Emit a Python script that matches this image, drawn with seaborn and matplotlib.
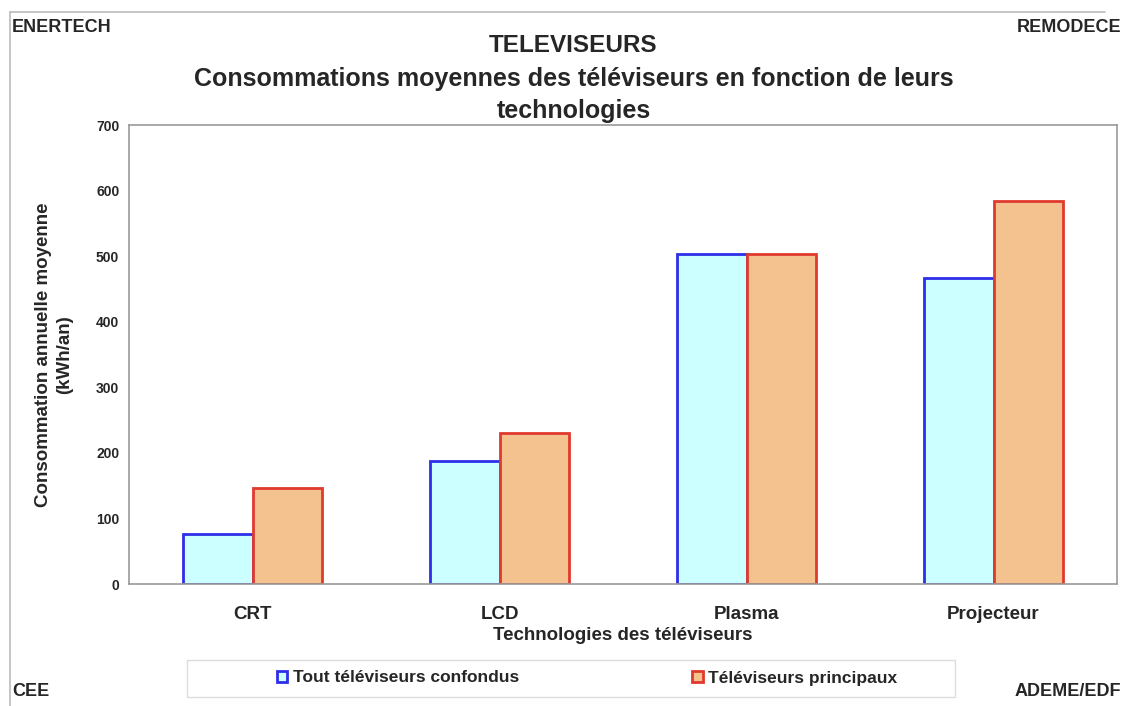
import matplotlib
matplotlib.use("Agg")
import matplotlib.pyplot as plt
import seaborn as sns
import pandas as pd
from matplotlib.patches import Patch, Rectangle
from matplotlib.lines import Line2D

categories = ["CRT", "LCD", "Plasma", "Projecteur"]
series_names = ["Tout téléviseurs confondus", "Téléviseurs principaux"]
tout_values = [76, 187, 504, 467]
principaux_values = [146, 231, 504, 584]
yticks = [0, 100, 200, 300, 400, 500, 600, 700]

fills = ["#CCFFFF", "#F4C28E"]
edges = ["#2E2EE8", "#E03A2E"]

df = pd.DataFrame({
    "cat": categories * 2,
    "val": tout_values + principaux_values,
    "serie": [series_names[0]] * 4 + [series_names[1]] * 4,
})

sns.set_style("white")
plt.rcParams["font.family"] = ["Liberation Sans", "DejaVu Sans"]

W, H = 1125, 706
fig = plt.figure(figsize=(W / 100, H / 100), dpi=100)
ax = fig.add_axes([129 / W, 1 - 584 / H, (1117 - 129) / W, (584 - 125) / H])

sns.barplot(data=df, x="cat", y="val", hue="serie", order=categories,
            hue_order=series_names, palette=fills, width=0.56,
            ax=ax, legend=False, saturation=1)

n = len(categories)
for i, bar in enumerate(ax.patches[:2 * n]):
    s = i // n
    bar.set_edgecolor(edges[s])
    bar.set_linewidth(2)

ax.set_ylim(0, 700)
ax.set_yticks(yticks)
ax.set_yticklabels([str(t) for t in yticks], fontsize=10, fontweight="bold")
ax.set_xticks(range(n))
ax.set_xticklabels(categories, fontsize=13.5, fontweight="bold")
ax.tick_params(axis="x", length=0, pad=16)
ax.tick_params(axis="y", length=0, pad=7)
for sp in ax.spines.values():
    sp.set_color("#999999")
    sp.set_linewidth(1.2)
ax.set_xlabel("Technologies des téléviseurs", fontsize=13.5, fontweight="bold", labelpad=3)
ax.set_ylabel("Consommation annuelle moyenne\n(kWh/an)", fontsize=13.5, fontweight="bold",
              linespacing=1.3)
ax.yaxis.set_label_coords((73 - 129) / (1117 - 129), 0.5)

fig.text(573 / W, 1 - 46 / H, "TELEVISEURS", ha="center", va="center",
         fontsize=17.5, fontweight="bold")
fig.text(574 / W, 1 - 95 / H,
         "Consommations moyennes des téléviseurs en fonction de leurs\ntechnologies",
         ha="center", va="center", fontsize=18, fontweight="bold", linespacing=1.38)

fig.text(12 / W, 1 - 27 / H, "ENERTECH", ha="left", va="center", fontsize=13, fontweight="bold")
fig.text(1121 / W, 1 - 27 / H, "REMODECE", ha="right", va="center", fontsize=13, fontweight="bold")
fig.text(12 / W, 1 - 692 / H, "CEE", ha="left", va="center", fontsize=13, fontweight="bold")
fig.text(1121 / W, 1 - 692 / H, "ADEME/EDF", ha="right", va="center", fontsize=13, fontweight="bold")

# outer frame (top and left edges visible)
fig.add_artist(Line2D([10 / W, 1105 / W], [1 - 12 / H, 1 - 12 / H], transform=fig.transFigure,
                      color="#BBBBBB", linewidth=1.2))
fig.add_artist(Line2D([10 / W, 10 / W], [1 - 12 / H, 0], transform=fig.transFigure,
                      color="#BBBBBB", linewidth=1.2))

# legend frame
fig.patches.append(Rectangle((187 / W, 1 - 697 / H), (955 - 187) / W, (697 - 660) / H,
                             transform=fig.transFigure, fill=False,
                             edgecolor="#DDDDDD", linewidth=1))

handles = [Patch(facecolor=fills[k], edgecolor=edges[k], linewidth=2) for k in range(2)]
leg = fig.legend(handles, series_names, loc="center",
                 bbox_to_anchor=(587 / W, 1 - 678 / H), ncol=2,
                 frameon=False, fontsize=12.5, handlelength=0.6, handleheight=0.6,
                 handletextpad=0.3, columnspacing=10.0, borderpad=0.3)
for t in leg.get_texts():
    t.set_fontweight("bold")

fig.savefig("out.png", dpi=100)
